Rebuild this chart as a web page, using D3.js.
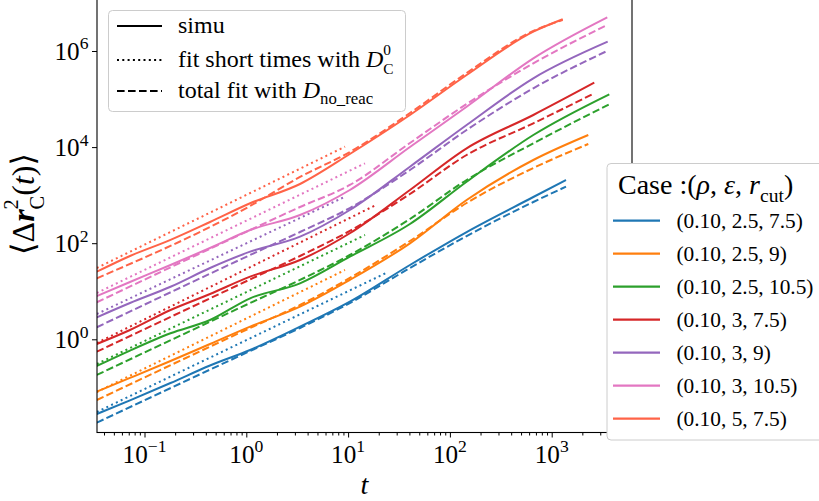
<!DOCTYPE html>
<html><head><meta charset="utf-8">
<script src="https://cdn.jsdelivr.net/npm/d3@7"></script>
<style>body{margin:0;background:#fff;} svg{display:block;} text{font-family:"Liberation Serif","DejaVu Serif","Noto Serif",serif;white-space:pre;}</style>
</head><body>
<svg id="chart" width="819" height="501"></svg>
<script>
// ---------------- data ----------------
const caseLabels = ["(0.10, 2.5, 7.5)", "(0.10, 2.5, 9)", "(0.10, 2.5, 10.5)",
  "(0.10, 3, 7.5)", "(0.10, 3, 9)", "(0.10, 3, 10.5)", "(0.10, 5, 7.5)"];
const colors = ["#1f77b4", "#ff7f0e", "#2ca02c", "#d62728", "#9467bd", "#e377c2", "#ff6347"];

// simulation (solid)
const simTimes = [0.034, 0.072, 0.18, 0.44, 1.09, 3.37, 10.4, 40.5, 146, 660];
const simEndTimes = [1382, 2288, 3680, 2621, 3548, 3516, 1283];
const simuMSD = [
  [0.0279, 0.0537, 0.123, 0.285, 0.599, 1.83, 6.06, 35.2, 171, 915, 2067],
  [0.0812, 0.157, 0.354, 0.798, 1.83, 4.77, 17.2, 99.5, 793, 5389, 17860],
  [0.278, 0.582, 1.333, 2.52, 7.13, 14.6, 52.4, 251, 1905, 17860, 125600],
  [0.798, 1.56, 4.07, 8.77, 20.1, 44.7, 161, 1280, 9441, 46560, 218900],
  [2.87, 5.69, 12.4, 30.5, 66.6, 137, 491, 3910, 28840, 270300, 1561000],
  [7.96, 15.6, 35.2, 79.5, 188, 386, 1280, 10050, 69300, 704700, 5028000],
  [25.5, 54.2, 117, 276, 677, 1706, 7184, 46560, 316600, 2522000, 4567000]
];

// total fit with D_no_reac (dashed)
const fitTimes = [0.034, 1.09, 3.37, 10.4, 40.5, 146, 660];
const totalFitMSD = [
  [0.0184, 0.571, 1.72, 5.69, 30.5, 141, 720, 1499],
  [0.0545, 1.72, 5.17, 18.9, 111, 686, 3673, 11600],
  [0.181, 5.69, 17.2, 56.8, 319, 2067, 12000, 77760],
  [0.552, 17.6, 54.2, 180, 1057, 6848, 31280, 131700],
  [1.78, 56.8, 171, 540, 3337, 22690, 167300, 1014000],
  [5.89, 188, 567, 1627, 12170, 78890, 554600, 3476000],
  [18.6, 595, 2387, 7907, 51250, 348500, 2608000, 4418000]
];

// short-time fit with D_C^0 (dotted)
const shortFitStartTime = 0.034;
const shortFitEndTimes = [23.9, 9.32, 14.66, 18.8, 9.32, 14.66, 9.32];
const shortFitStartMSD = [0.0307, 0.080, 0.306, 0.838, 3.36, 9.2, 30.5];
const shortFitEndMSD = [24.3, 27.7, 148, 624, 929, 4602, 10190];

const xMajorTicks = [0.1, 1, 10, 100, 1000];
const xTickExp = ["\u22121", "0", "1", "2", "3"];
const yMajorTicks = [1, 100, 1e4, 1e6];
const yTickExp = ["0", "2", "4", "6"];

// ---------------- layout ----------------
const svg = d3.select("#chart");
svg.append("rect").attr("width", 819).attr("height", 501).attr("fill", "#fff");
const L = 97, R = 632, B = 432.5, T = -24;
const x = d3.scaleLog().domain([0.03414, 6150]).range([L, R]);
const y = d3.scaleLog().domain([0.01149, Math.pow(10, (339.3 + 24) / 48.05)]).range([B, T]);

svg.append("defs").append("clipPath").attr("id", "clip")
  .append("rect").attr("x", L).attr("y", T).attr("width", R - L).attr("height", B - T);

// rich text helper: each part is one <text>; its scripts (sup / sub) are tspans of the same <text>
function rich(parent, parts, size) {
  const g = parent.append("g");
  let cx = 0;
  parts.forEach(p => {
    const el = g.append("text").attr("fill", "#000").attr("font-size", size);
    const base = el.append("tspan").attr("x", cx).attr("y", 0)
      .attr("font-style", p.it ? "italic" : "normal")
      .attr("font-weight", p.b ? "bold" : "normal")
      .text(p.t);
    let w = base.node().getComputedTextLength();
    let sw = 0;
    const both = p.sup !== undefined && p.sub !== undefined;
    const sc = both ? 0.64 : 0.7;
    if (p.sup !== undefined) {
      const s = el.append("tspan").attr("x", cx + w).attr("y", (both ? -0.5 : -0.42) * size)
        .attr("font-size", size * sc).text(p.sup);
      sw = Math.max(sw, s.node().getComputedTextLength());
    }
    if (p.sub !== undefined) {
      const s = el.append("tspan").attr("x", cx + w).attr("y", (both ? 0.3 : 0.27) * size)
        .attr("font-size", size * sc).text(p.sub);
      sw = Math.max(sw, s.node().getComputedTextLength());
    }
    cx += w + sw;
  });
  return { g, width: cx };
}
// font size that gives a target width
function sizeFor(parts, target, lo, hi) {
  const r = rich(svg, parts, 20);
  const w = r.width; r.g.remove();
  return Math.max(lo, Math.min(hi, 20 * target / w));
}

// ---------------- lines ----------------
const plot = svg.append("g").attr("clip-path", "url(#clip)");
const line = d3.line().x(d => x(d[0])).y(d => y(d[1]));
const smooth = d3.line().x(d => x(d[0])).y(d => y(d[1])).curve(d3.curveMonotoneX);

colors.forEach((c, i) => {
  const ts = simTimes.concat([simEndTimes[i]]);
  const sim = ts.map((t, j) => [t, simuMSD[i][j]]);
  plot.append("path").attr("d", smooth(sim)).attr("fill", "none")
    .attr("stroke", c).attr("stroke-width", 2).attr("stroke-linejoin", "round");
  const sf = [[shortFitStartTime, shortFitStartMSD[i]], [shortFitEndTimes[i], shortFitEndMSD[i]]];
  plot.append("path").attr("d", line(sf)).attr("fill", "none")
    .attr("stroke", c).attr("stroke-width", 2).attr("stroke-dasharray", "2,3.3");
  const ft = fitTimes.concat([simEndTimes[i]]);
  const tf = ft.map((t, j) => [t, totalFitMSD[i][j]]);
  plot.append("path").attr("d", smooth(tf)).attr("fill", "none")
    .attr("stroke", c).attr("stroke-width", 2).attr("stroke-dasharray", "7.4,3.2");
});

// ---------------- axes ----------------
const xMinor = [];
for (let d = -2; d <= 3; d++) for (let k = 2; k <= 9; k++) {
  const v = k * Math.pow(10, d);
  if (v > x.domain()[0] && v < x.domain()[1]) xMinor.push(v);
}
const gx = svg.append("g").attr("transform", `translate(0,${B})`);
gx.append("g").call(d3.axisBottom(x).tickValues(xMinor).tickSize(3).tickSizeOuter(0).tickFormat(""));
gx.append("g").call(d3.axisBottom(x).tickValues(xMajorTicks).tickSize(5).tickSizeOuter(0).tickFormat(""));
gx.selectAll(".domain").remove();
gx.selectAll(".tick line").attr("stroke", "#000").attr("stroke-width", 1);

const gy = svg.append("g").attr("transform", `translate(${L},0)`);
gy.call(d3.axisLeft(y).tickValues(yMajorTicks).tickSize(5).tickSizeOuter(0).tickFormat(""));
gy.selectAll(".domain").remove();
gy.selectAll(".tick line").attr("stroke", "#000").attr("stroke-width", 1);

// spines
svg.append("rect").attr("x", L).attr("y", T).attr("width", R - L).attr("height", B - T)
  .attr("fill", "none").attr("stroke", "#000").attr("stroke-width", 1.1);

const tickParts = e => [{ t: "10", sup: e }];
const tickFont = sizeFor(tickParts("2"), 34, 20, 27);
xMajorTicks.forEach((v, i) => {
  const r = rich(svg, tickParts(xTickExp[i]), tickFont);
  r.g.attr("transform", `translate(${x(v) - r.width / 2},463)`);
});
yMajorTicks.forEach((v, i) => {
  const r = rich(svg, tickParts(yTickExp[i]), tickFont);
  r.g.attr("transform", `translate(${88.5 - r.width},${y(v) + 9})`);
});

// axis labels
const xl = rich(svg, [{ t: "t", it: true }], tickFont * 1.12);
xl.g.attr("transform", `translate(${(L + R) / 2 - xl.width / 2},494)`);

const ylParts = [
  { t: "\u27E8\u0394" }, { t: "r", it: true, b: true, sup: "2", sub: "C" },
  { t: "(" }, { t: "t", it: true }, { t: ")\u27E9" }
];
const ylg = svg.append("g");
const yl = rich(ylg, ylParts, sizeFor(ylParts, 127, 22, 32));
yl.g.attr("transform", `translate(34,204) rotate(-90) translate(${-yl.width / 2},0)`);

// ---------------- legend 1 (line styles) ----------------
const lg1 = svg.append("g");
lg1.append("rect").attr("x", 108.5).attr("y", 10.5).attr("width", 297).attr("height", 101)
  .attr("rx", 4).attr("fill", "#fff").attr("stroke", "#cccccc").attr("stroke-width", 1);
const styleRows = [
  { y: 26, dash: null, parts: [{ t: "simu" }] },
  { y: 60, dash: "2,3.3", parts: [{ t: "fit short times with " }, { t: "D", it: true, sup: "0", sub: "C" }] },
  { y: 91, dash: "7.6,3.4", parts: [{ t: "total fit with " }, { t: "D", it: true, sub: "no_reac" }] }
];
const lg1Font = sizeFor(styleRows[1].parts, 220, 16, 24);
styleRows.forEach(r => {
  lg1.append("line").attr("x1", 117).attr("x2", 162).attr("y1", r.y).attr("y2", r.y)
    .attr("stroke", "#000").attr("stroke-width", 2.2).attr("stroke-dasharray", r.dash);
  const t = rich(lg1, r.parts, lg1Font);
  t.g.attr("transform", `translate(178,${r.y + 7})`);
});

// ---------------- legend 2 (cases) ----------------
const lg2 = svg.append("g");
lg2.append("rect").attr("x", 607).attr("y", 163.5).attr("width", 240).attr("height", 276.5)
  .attr("rx", 4).attr("fill", "#fff").attr("stroke", "#cccccc").attr("stroke-width", 1);
const titleParts = [{ t: "Case :(" }, { t: "\u03C1", it: true }, { t: ", " },
  { t: "\u03B5", it: true }, { t: ", " }, { t: "r", it: true, sub: "cut" }, { t: ")" }];
const title = rich(lg2, titleParts, sizeFor(titleParts, 190, 18, 28));
title.g.attr("transform", "translate(618,194)");
const caseFont = sizeFor([{ t: caseLabels[2] }], 137, 16, 24);
caseLabels.forEach((lab, i) => {
  const yy = 220.7 + i * 33;
  lg2.append("line").attr("x1", 613).attr("x2", 660).attr("y1", yy).attr("y2", yy)
    .attr("stroke", colors[i]).attr("stroke-width", 2.2);
  const t = rich(lg2, [{ t: lab }], caseFont);
  t.g.attr("transform", `translate(676.5,${yy + 7})`);
});
</script>
</body></html>
